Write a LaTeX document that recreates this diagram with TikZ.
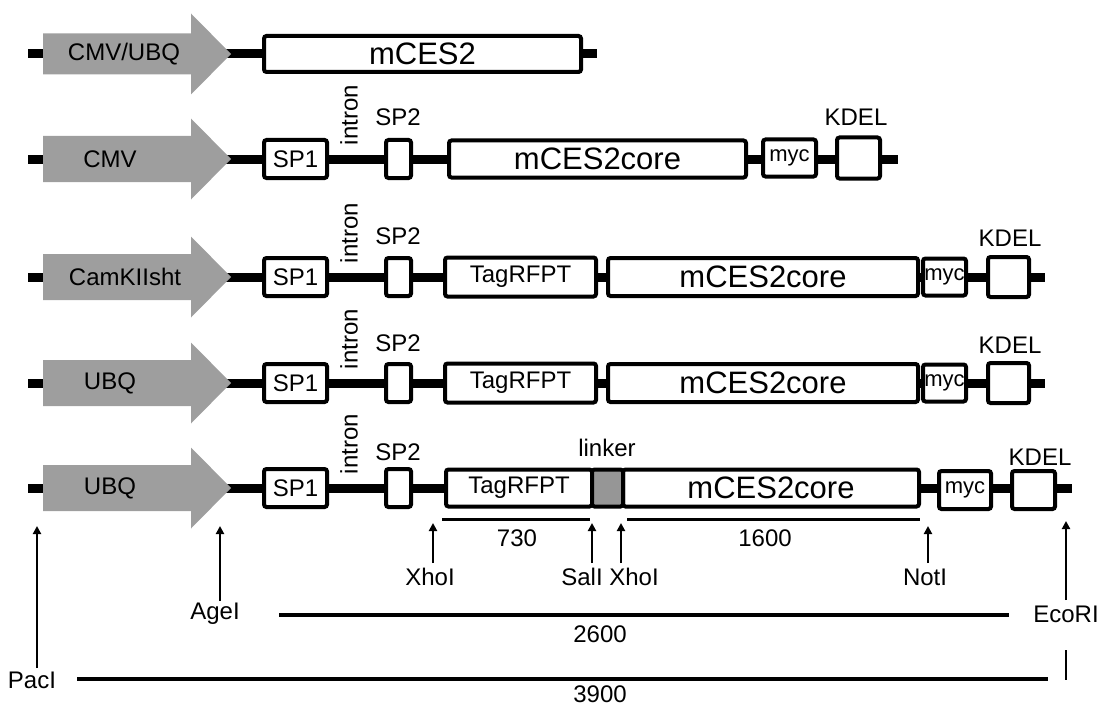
\documentclass[tikz,border=0pt]{standalone}
\usepackage{fontspec}
\setmainfont{Liberation Sans}
\usetikzlibrary{arrows.meta}
\definecolor{promgray}{RGB}{158,158,158}
\definecolor{linkgray}{RGB}{150,150,150}
\newcommand\gbx[7][]{\node[boxst,#1,minimum width={#4-#3-4},minimum height={#6-4}] (#2) at ({(#3+#4)/2},#5) {#7};}
\newcommand\promo[6]{%
  \fill[prom] (43,{#2-#3}) -- (191,{#2-#3}) -- (191,{#2-#4}) -- (231,#2) -- (191,{#2+#4}) -- (191,{#2+#3}) -- (43,{#2+#3}) -- cycle;
  \node[sm] (#1) at (#5,#2) {#6};}
\newcommand\sigpart[4]{%
  \gbx{#1sp1}{262}{329}{#2}{42}{SP1}
  \node[sm,rotate=90] (#1intron) at (349,#3) {intron};
  \gbx{#1sp2}{384}{413}{#2}{42}{}
  \node[sm] (#1sptwo) at (398,#4) {SP2};}
\begin{document}
\begin{tikzpicture}[x=1pt,y=-1pt,
  bb/.style={line width=9pt},
  boxst/.style={draw, line width=4pt, fill=white, rounded corners=2.5pt, inner sep=0pt, font=\fontsize{24}{24}\selectfont},
  sm/.style={font=\fontsize{24}{24}\selectfont, inner sep=0pt},
  bg/.style={font=\fontsize{31}{31}\selectfont},
  mycst/.style={font=\fontsize{22}{22}\selectfont},
  prom/.style={fill=promgray},
  site/.style={line width=2.6pt, -{Triangle[length=8pt,width=8pt]}},
  ruler/.style={line width=3pt},
  span/.style={line width=4.5pt}]
\useasboundingbox (0,0) rectangle (1100,706);
% ---------- row 1
\coordinate (r1s) at (28,54); \coordinate (r1e) at (597,54);
\draw[bb] (r1s) -- (r1e);
\promo{r1p}{54}{20.5}{40.5}{124}{CMV/UBQ}
\gbx[bg]{r1m}{262}{583}{54}{40}{mCES2}
% ---------- row 2
\coordinate (r2s) at (28,159); \coordinate (r2e) at (898,159);
\draw[bb] (r2s) -- (r2e);
\promo{r2p}{159}{23}{40.5}{110}{CMV}
\sigpart{r2}{159}{115}{117}
\gbx[bg]{r2m}{447}{748}{159}{41}{mCES2core}
\gbx[mycst]{r2myc}{761}{818}{158}{41}{myc}
\gbx{r2k}{835}{882}{158}{45}{}
\node[sm] (r2kl) at (856,117) {KDEL};
% ---------- row 3
\coordinate (r3s) at (28,277); \coordinate (r3e) at (1045,277);
\draw[bb] (r3s) -- (r3e);
\promo{r3p}{277}{23}{40.5}{125}{CamKIIsht}
\sigpart{r3}{277}{233}{236}
\gbx{r3t}{443}{598}{277}{43}{TagRFPT}
\gbx[bg]{r3m}{606}{920}{277}{42}{mCES2core}
\gbx[mycst]{r3myc}{921}{968}{277}{41}{myc}
\gbx{r3k}{986}{1031}{277}{44}{}
\node[sm] (r3kl) at (1010,238) {KDEL};
% ---------- row 4
\coordinate (r4s) at (28,383); \coordinate (r4e) at (1045,383);
\draw[bb] (r4s) -- (r4e);
\promo{r4p}{383}{23}{40.5}{110}{UBQ}
\sigpart{r4}{383}{339}{343}
\gbx{r4t}{443}{598}{383}{43}{TagRFPT}
\gbx[bg]{r4m}{606}{920}{383}{42}{mCES2core}
\gbx[mycst]{r4myc}{921}{968}{383}{41}{myc}
\gbx{r4k}{986}{1031}{383}{44}{}
\node[sm] (r4kl) at (1010,345) {KDEL};
% ---------- row 5
\coordinate (r5s) at (28,488); \coordinate (r5e) at (1072,488);
\draw[bb] (r5s) -- (r5e);
\promo{r5p}{488}{23}{40.5}{110}{UBQ}
\sigpart{r5}{488}{444}{452}
\gbx{r5t}{444}{594}{488}{41}{TagRFPT}
\gbx[bg]{r5m}{621}{921}{488}{41}{mCES2core}
\gbx[fill=linkgray]{r5lk}{590}{625}{488}{41}{}
\node[sm] (r5lkl) at (607,448) {linker};
\gbx[mycst]{r5myc}{937}{993}{490}{42}{myc}
\gbx{r5k}{1010}{1057}{490}{42}{}
\node[sm] (r5kl) at (1040,457) {KDEL};
% ---------- fragment rulers
\coordinate (a730) at (442,519); \coordinate (b730) at (590,519);
\draw[ruler] (a730) -- (b730);
\node[sm] (l730) at (517,538) {730};
\coordinate (a1600) at (627,519); \coordinate (b1600) at (920,519);
\draw[ruler] (a1600) -- (b1600);
\node[sm] (l1600) at (765,538) {1600};
% ---------- restriction sites
\coordinate (xa0) at (433,563); \coordinate (xa1) at (433,523);
\draw[site] (xa0) -- (xa1);
\node[sm] (lxa) at (430,577) {XhoI};
\coordinate (sa0) at (592,563); \coordinate (sa1) at (592,523);
\draw[site] (sa0) -- (sa1);
\node[sm] (lsa) at (582,577) {SalI};
\coordinate (xb0) at (621,563); \coordinate (xb1) at (621,523);
\draw[site] (xb0) -- (xb1);
\node[sm] (lxb) at (634,577) {XhoI};
\coordinate (no0) at (928,563); \coordinate (no1) at (928,526);
\draw[site] (no0) -- (no1);
\node[sm] (lno) at (925,577) {NotI};
\coordinate (ag0) at (220,601); \coordinate (ag1) at (220,526);
\draw[site] (ag0) -- (ag1);
\node[sm] (lag) at (215,614) {AgeI};
\coordinate (pa0) at (37,668); \coordinate (pa1) at (37,526);
\draw[site] (pa0) -- (pa1);
\node[sm] (lpa) at (32,680) {PacI};
\coordinate (ec0) at (1066,600); \coordinate (ec1) at (1066,521);
\draw[site] (ec0) -- (ec1);
\node[sm] (lec) at (1066,614) {EcoRI};
\coordinate (ec2) at (1066,650); \coordinate (ec3) at (1066,680);
\draw[line width=2.6pt] (ec2) -- (ec3);
% ---------- spans
\coordinate (s26a) at (279,615); \coordinate (s26b) at (1009,615);
\draw[span] (s26a) -- (s26b);
\node[sm] (l2600) at (600,634) {2600};
\coordinate (s39a) at (77,679); \coordinate (s39b) at (1048,679);
\draw[span] (s39a) -- (s39b);
\node[sm] (l3900) at (600,694) {3900};
\end{tikzpicture}
\end{document}
